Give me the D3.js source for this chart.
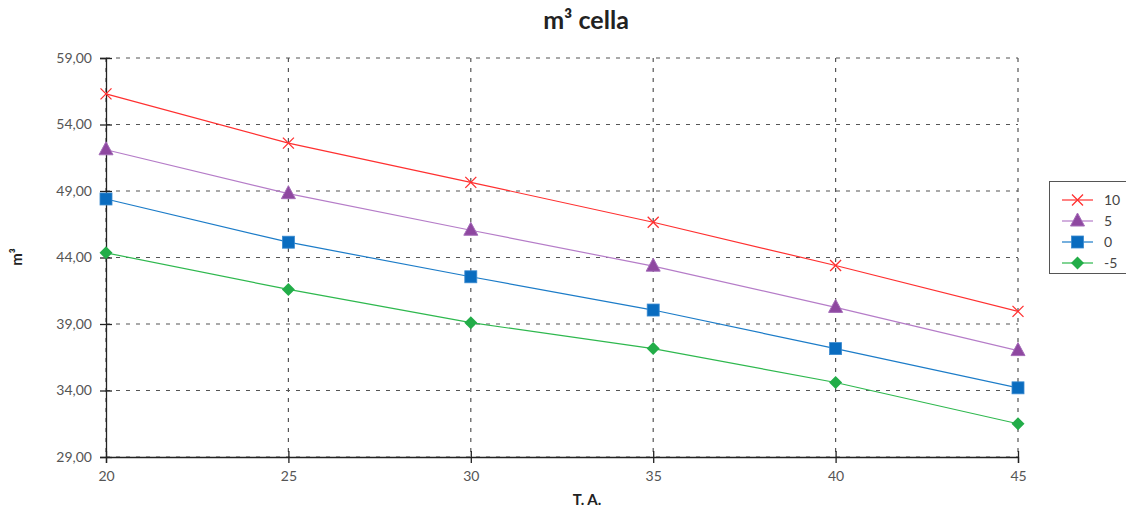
<!DOCTYPE html>
<html><head><meta charset="utf-8">
<script src="https://cdn.jsdelivr.net/npm/d3@7"></script>
<style>body{margin:0;background:#fff}svg{display:block}</style>
</head><body><svg id="c" width="1126" height="511"></svg>
<script>
const xValues = [20, 25, 30, 35, 40, 45];
const yTicks = [29, 34, 39, 44, 49, 54, 59];
const seriesNames = ["10", "5", "0", "-5"];
const s10 = [56.3, 52.6, 49.65, 46.65, 43.4, 39.95];
const s5 = [52.1, 48.8, 46.05, 43.35, 40.25, 37.0];
const s0 = [48.4, 45.15, 42.55, 40.05, 37.15, 34.2];
const sm5 = [44.35, 41.6, 39.1, 37.15, 34.6, 31.5];
const seriesData = [s10, s5, s0, sm5];
const lineColors = ["#ff3030", "#b57cc8", "#1c7cc8", "#2eb84e"];
const markColors = ["#ff3030", "#8e47a0", "#0a6cbf", "#22ad48"];
const markers = ["x", "tri", "sq", "dia"];

const svg = d3.select("#c");
const font = "Lato, 'Open Sans', sans-serif";
const x = d3.scaleLinear().domain([20, 45]).range([106, 1018]);
const y = d3.scaleLinear().domain([29, 59]).range([457, 58]);

// grid
const g = svg.append("g");
g.selectAll(".hg").data(yTicks).join("line")
  .attr("x1", 106).attr("x2", 1018).attr("y1", d => y(d)).attr("y2", d => y(d))
  .attr("stroke", "#555").attr("stroke-dasharray", "4,6").attr("stroke-width", 1.2);
g.selectAll(".vg").data(xValues).join("line")
  .attr("y1", 58).attr("y2", 457).attr("x1", d => x(d)).attr("x2", d => x(d))
  .attr("stroke", "#555").attr("stroke-dasharray", "4,6").attr("stroke-width", 1.2);

// axes
const ya = svg.append("g").attr("transform", "translate(106,0)")
  .call(d3.axisLeft(y).tickValues(yTicks).tickSize(6).tickFormat(d => d3.format(".2f")(d).replace(".", ",")));
const xa = svg.append("g").attr("transform", "translate(0,457)")
  .call(d3.axisBottom(x).tickValues(xValues).tickSize(6).tickFormat(d3.format("d")));
[ya, xa].forEach(a => {
  a.select(".domain").attr("stroke", "#222").attr("stroke-width", 1.3);
  a.selectAll(".tick line").attr("stroke", "#222").attr("stroke-width", 1.3);
  a.selectAll("text").attr("fill", "#555").style("font-family", font).style("font-size", "14px");
});
ya.selectAll(".tick text").attr("x", -14);
ya.selectAll(".tick line").attr("x1", 6);
xa.selectAll(".tick text").attr("y", 14);
xa.selectAll(".tick line").attr("y1", -6);

// series
function drawMarker(sel, type, color, cx, cy) {
  if (type === "x") {
    const r = 5.5;
    sel.append("path").attr("d", `M${cx-r},${cy-r}L${cx+r},${cy+r}M${cx-r},${cy+r}L${cx+r},${cy-r}`)
      .attr("stroke", color).attr("stroke-width", 1.3).attr("fill", "none");
  } else if (type === "tri") {
    sel.append("path").attr("d", `M${cx},${cy-8}L${cx+7},${cy+5}L${cx-7},${cy+5}Z`)
      .attr("fill", color).attr("stroke", "#a46cb8").attr("stroke-width", 1);
  } else if (type === "sq") {
    sel.append("rect").attr("x", cx-6).attr("y", cy-6).attr("width", 12).attr("height", 12)
      .attr("fill", color).attr("stroke", "#3a8ad0").attr("stroke-width", 0.8);
  } else {
    sel.append("path").attr("d", `M${cx},${cy-6.5}L${cx+6.5},${cy}L${cx},${cy+6.5}L${cx-6.5},${cy}Z`)
      .attr("fill", color);
  }
}
const line = d3.line().x((d, i) => x(xValues[i])).y(d => y(d));
seriesData.forEach((s, k) => {
  svg.append("path").datum(s).attr("d", line).attr("fill", "none")
    .attr("stroke", lineColors[k]).attr("stroke-width", 1.2);
  const mg = svg.append("g");
  s.forEach((v, i) => drawMarker(mg, markers[k], markColors[k], x(xValues[i]), y(v)));
});

// legend
const lg = svg.append("g");
lg.append("rect").attr("x", 1049.5).attr("y", 181.5).attr("width", 80).attr("height", 92)
  .attr("fill", "#fff").attr("stroke", "#555").attr("stroke-width", 1);
seriesNames.forEach((n, k) => {
  const ly = 200 + k * 21;
  lg.append("line").attr("x1", 1062).attr("x2", 1093).attr("y1", ly).attr("y2", ly)
    .attr("stroke", lineColors[k]).attr("stroke-width", 1.2);
  drawMarker(lg, markers[k], markColors[k], 1077.5, ly);
  lg.append("text").attr("x", 1104).attr("y", ly + 5).text(n)
    .attr("fill", "#444").style("font-family", font).style("font-size", "14px");
});

// titles
svg.append("text").attr("x", 586).attr("y", 29).attr("text-anchor", "middle").text("m³ cella")
  .attr("fill", "#222").style("font-family", font).style("font-size", "25px").style("font-weight", "bold");
svg.append("text").attr("x", 587).attr("y", 505).attr("text-anchor", "middle").text("T. A.")
  .attr("fill", "#222").style("font-family", font).style("font-size", "15px").style("font-weight", "bold");
svg.append("text").attr("transform", "translate(22,257) rotate(-90)").attr("text-anchor", "middle").text("m³")
  .attr("fill", "#222").style("font-family", font).style("font-size", "15px").style("font-weight", "bold");
</script></body></html>
